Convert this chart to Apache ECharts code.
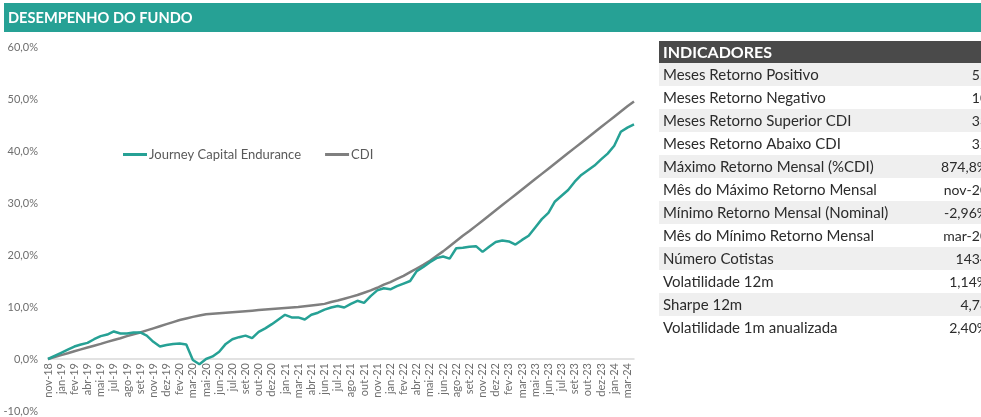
<!DOCTYPE html>
<html>
<head>
<meta charset="utf-8">
<title>Desempenho do Fundo</title>
<script src="https://cdn.jsdelivr.net/npm/echarts@6.0.0/dist/echarts.min.js"></script>
<style>
  html, body { margin: 0; padding: 0; background: #fff; }
  #chart { width: 981px; height: 417px; }
</style>
</head>
<body>
<div id="chart"></div>
<script>
// rótulos do eixo x (um a cada dois pontos)
const tickLabels = ['nov-18', 'jan-19', 'fev-19', 'abr-19', 'mai-19', 'jul-19', 'ago-19', 'set-19', 'nov-19', 'dez-19',
  'fev-20', 'mar-20', 'mai-20', 'jun-20', 'jul-20', 'set-20', 'out-20', 'dez-20', 'jan-21', 'mar-21',
  'abr-21', 'jun-21', 'jul-21', 'ago-21', 'out-21', 'nov-21', 'jan-22', 'fev-22', 'abr-22', 'mai-22',
  'jun-22', 'ago-22', 'set-22', 'nov-22', 'dez-22', 'fev-23', 'mar-23', 'mai-23', 'jun-23', 'jul-23',
  'set-23', 'out-23', 'dez-23', 'jan-24', 'mar-24'];

// retorno acumulado (%) do fundo
const fundValues = [
  0.0, 0.6, 1.2, 1.8, 2.4, 2.8, 3.1, 3.8, 4.4, 4.7,
  5.3, 4.9, 4.9, 5.1, 5.1, 4.5, 3.3, 2.4, 2.7, 2.9,
  3.0, 2.8, -0.2, -1.0, 0.0, 0.5, 1.4, 2.9, 3.8, 4.2,
  4.5, 4.0, 5.2, 5.9, 6.7, 7.6, 8.5, 8.0, 8.0, 7.6,
  8.5, 8.9, 9.5, 9.9, 10.2, 9.9, 10.6, 11.2, 10.8, 12.1,
  13.2, 13.6, 13.4, 14.0, 14.5, 15.0, 16.9, 17.7, 18.6, 19.4,
  19.7, 19.3, 21.3, 21.4, 21.6, 21.7, 20.6, 21.6, 22.5, 22.8,
  22.6, 22.0, 22.9, 23.7, 25.3, 26.9, 28.1, 30.3, 31.4, 32.5,
  34.1, 35.4, 36.3, 37.2, 38.4, 39.5, 41.0, 43.7, 44.5, 45.1
];

// CDI acumulado (%)
const cdiValues = [
  0.0, 0.37, 0.75, 1.1, 1.5, 1.85, 2.2, 2.55, 2.9, 3.3,
  3.65, 4.0, 4.4, 4.75, 5.1, 5.5, 5.9, 6.3, 6.7, 7.1,
  7.5, 7.8, 8.1, 8.35, 8.6, 8.7, 8.8, 8.9, 9.0, 9.1,
  9.2, 9.3, 9.4, 9.5, 9.6, 9.7, 9.8, 9.9, 10.0, 10.15,
  10.3, 10.45, 10.6, 10.95, 11.25, 11.6, 11.95, 12.3, 12.75, 13.2,
  13.7, 14.3, 14.8, 15.4, 16.0, 16.7, 17.4, 18.1, 18.9, 19.8,
  20.7, 21.7, 22.7, 23.7, 24.6, 25.6, 26.6, 27.6, 28.6, 29.6,
  30.6, 31.6, 32.6, 33.6, 34.6, 35.6, 36.6, 37.6, 38.6, 39.6,
  40.6, 41.6, 42.6, 43.6, 44.6, 45.6, 46.6, 47.6, 48.6, 49.5
];

// tabela de indicadores
const indicatorNames = ['Meses Retorno Positivo', 'Meses Retorno Negativo', 'Meses Retorno Superior CDI',
  'Meses Retorno Abaixo CDI', 'Máximo Retorno Mensal (%CDI)', 'Mês do Máximo Retorno Mensal',
  'Mínimo Retorno Mensal (Nominal)', 'Mês do Mínimo Retorno Mensal', 'Número Cotistas',
  'Volatilidade 12m', 'Sharpe 12m', 'Volatilidade 1m anualizada'];
const indicatorValues = ['55', '10', '33', '32', '874,8%', 'nov-20', '-2,96%', 'mar-20', '1434', '1,14%', '4,78', '2,40%'];

const categories = tickLabels.flatMap(t => [t, '']);

const FONT = 'Lato, "Open Sans", sans-serif';
const TEAL = '#26a195';
const GRAY = '#7f7f7f';
const LABEL = '#6f6f6f';

// cabeçalho + tabela desenhados como graphic
const graphics = [
  { type: 'rect', shape: { x: 4, y: 3, width: 990, height: 29 }, style: { fill: TEAL } },
  { type: 'text', x: 8, y: 18, style: { text: 'DESEMPENHO DO FUNDO', fill: '#fff', font: 'bold 14.6px ' + FONT, verticalAlign: 'middle' } },
  { type: 'rect', shape: { x: 659, y: 41, width: 340, height: 22 }, style: { fill: '#4a4a4a' } },
  { type: 'text', x: 663, y: 52.5, style: { text: 'INDICADORES', fill: '#fff', font: 'bold 16px ' + FONT, verticalAlign: 'middle' } }
];
indicatorNames.forEach((name, r) => {
  const top = 63 + 23 * r;
  graphics.push({ type: 'rect', shape: { x: 659, y: top, width: 340, height: 23 }, style: { fill: r % 2 === 0 ? '#efefef' : '#ffffff' } });
  graphics.push({ type: 'text', x: 663, y: top + 12, style: { text: name, fill: '#2b2b2b', font: '15px ' + FONT, verticalAlign: 'middle' } });
  // valores cortados pela borda direita, como no original
  graphics.push({ type: 'text', x: 988, y: top + 12, style: { text: indicatorValues[r], fill: '#2b2b2b', font: '14px ' + FONT, verticalAlign: 'middle', align: 'right' } });
});

const myChart = echarts.init(document.getElementById('chart'), null, { renderer: 'canvas' });

const option = {
  animation: false,
  backgroundColor: '#fff',
  textStyle: { fontFamily: FONT },
  graphic: graphics,
  legend: {
    data: ['Journey Capital Endurance', 'CDI'],
    left: 118,
    top: 143,
    icon: 'rect',
    itemWidth: 24,
    itemHeight: 3,
    itemGap: 24,
    textStyle: { color: '#595959', fontSize: 13, fontFamily: FONT, padding: [0, 0, 0, -3] }
  },
  grid: {
    left: 48,
    top: 47,
    width: 586,
    height: 364,
    containLabel: false,
    outerBoundsMode: 'none'
  },
  xAxis: {
    type: 'category',
    data: categories,
    boundaryGap: false,
    // eixo deslocado para a linha do zero (-10% fica 52px abaixo)
    offset: -52,
    axisLine: { show: true, onZero: false, lineStyle: { color: '#d9d9d9', width: 1.5 } },
    axisTick: { show: false },
    splitLine: { show: false },
    axisLabel: {
      interval: 0,
      rotate: 90,
      margin: 4,
      color: LABEL,
      fontSize: 11,
      fontFamily: FONT,
      hideOverlap: false
    }
  },
  yAxis: {
    type: 'value',
    min: -10,
    max: 60,
    interval: 10,
    axisLine: { show: false },
    axisTick: { show: false },
    splitLine: { show: false },
    axisLabel: {
      margin: 10,
      color: LABEL,
      fontSize: 11,
      fontFamily: FONT,
      formatter: v => v.toFixed(1).replace('.', ',') + '%'
    }
  },
  series: [
    {
      name: 'CDI',
      type: 'line',
      data: cdiValues,
      showSymbol: false,
      color: GRAY,
      lineStyle: { width: 2.5, color: GRAY },
      z: 2
    },
    {
      name: 'Journey Capital Endurance',
      type: 'line',
      data: fundValues,
      showSymbol: false,
      color: TEAL,
      lineStyle: { width: 2.5, color: TEAL },
      z: 3
    }
  ]
};

myChart.setOption(option);
window.addEventListener('resize', () => {
  myChart.resize()
});
</script>
</body>
</html>
